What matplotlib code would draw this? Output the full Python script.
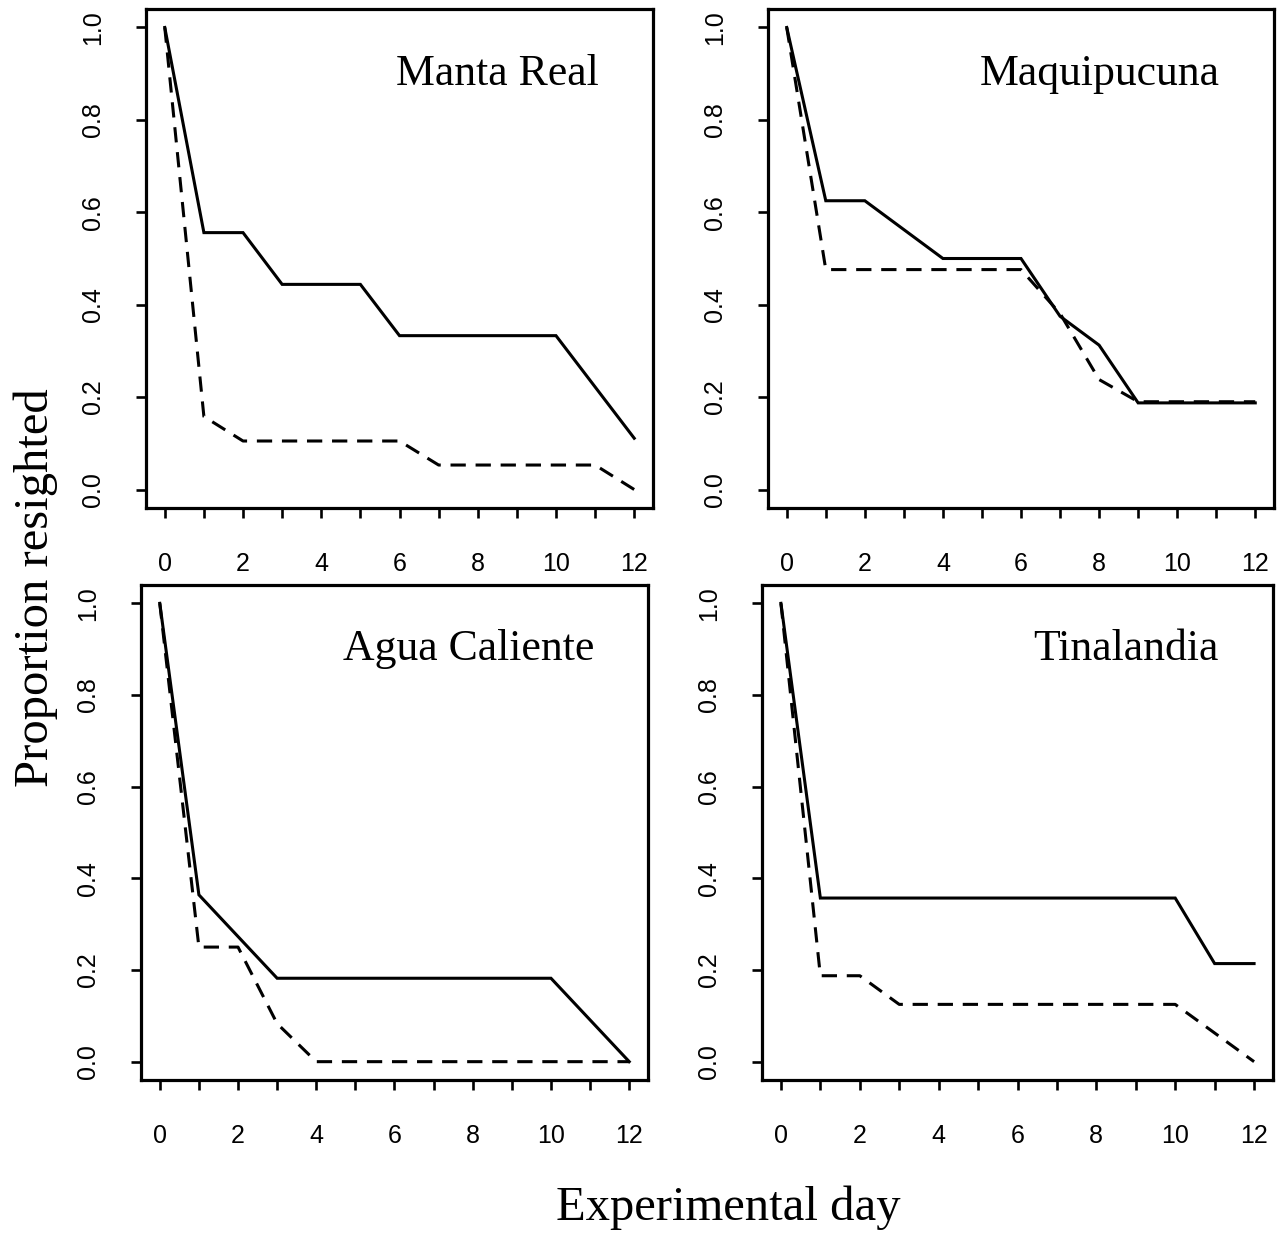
import matplotlib
matplotlib.use("Agg")
import matplotlib.pyplot as plt
import numpy as np

days = list(range(13))
sites = ["Manta Real", "Maquipucuna", "Agua Caliente", "Tinalandia"]

manta_solid = [1.0, 0.556, 0.556, 0.444, 0.444, 0.444, 0.333, 0.333, 0.333, 0.333, 0.333, 0.222, 0.111]
manta_dashed = [1.0, 0.158, 0.105, 0.105, 0.105, 0.105, 0.105, 0.053, 0.053, 0.053, 0.053, 0.053, 0.0]
maqui_solid = [1.0, 0.625, 0.625, 0.5625, 0.5, 0.5, 0.5, 0.375, 0.3125, 0.1875, 0.1875, 0.1875, 0.1875]
maqui_dashed = [1.0, 0.476, 0.476, 0.476, 0.476, 0.476, 0.476, 0.381, 0.238, 0.190, 0.190, 0.190, 0.190]
agua_solid = [1.0, 0.364, 0.273, 0.182, 0.182, 0.182, 0.182, 0.182, 0.182, 0.182, 0.182, 0.091, 0.0]
agua_dashed = [1.0, 0.25, 0.25, 0.083, 0.0, 0.0, 0.0, 0.0, 0.0, 0.0, 0.0, 0.0, 0.0]
tina_solid = [1.0, 0.357, 0.357, 0.357, 0.357, 0.357, 0.357, 0.357, 0.357, 0.357, 0.357, 0.214, 0.214]
tina_dashed = [1.0, 0.1875, 0.1875, 0.125, 0.125, 0.125, 0.125, 0.125, 0.125, 0.125, 0.125, 0.0625, 0.0]

solid_series = [manta_solid, maqui_solid, agua_solid, tina_solid]
dashed_series = [manta_dashed, maqui_dashed, agua_dashed, tina_dashed]

xtick_major = [0, 2, 4, 6, 8, 10, 12]
xtick_minor = [1, 3, 5, 7, 9, 11]
ytick_vals = [0.0, 0.2, 0.4, 0.6, 0.8, 1.0]

W, H = 1288, 1236
fig = plt.figure(figsize=(W / 100, H / 100), dpi=100)

# panel boxes in pixels: left, right, top, bottom
boxes = [(146, 653, 9, 508), (768, 1274, 9, 508),
         (141, 648, 585, 1080), (762, 1273, 585, 1080)]

serif = ["Liberation Serif", "DejaVu Serif"]
sans = ["Liberation Sans", "DejaVu Sans"]

for i, (l, r, t, b) in enumerate(boxes):
    ax = fig.add_axes([l / W, 1 - b / H, (r - l) / W, (b - t) / H])
    ax.plot(days, solid_series[i], color="black", lw=2.2, solid_joinstyle="miter")
    ax.plot(days, dashed_series[i], color="black", lw=2.2, dashes=(5, 3.2))
    ax.set_xlim(-0.48, 12.48)
    ax.set_ylim(-0.04, 1.04)
    ax.set_xticks(xtick_major)
    ax.set_xticklabels([str(v) for v in xtick_major], fontfamily=sans, fontsize=18)
    ax.set_xticks(xtick_minor, minor=True)
    ax.set_yticks(ytick_vals)
    ax.set_yticklabels([f"{v:.1f}" for v in ytick_vals], fontfamily=sans, fontsize=18,
                       rotation=90, va="center")
    ax.tick_params(axis="both", which="both", direction="out", length=7.5, width=1.9,
                   color="black")
    ax.tick_params(axis="x", which="both", pad=24)
    ax.tick_params(axis="y", which="both", pad=22)
    for s in ax.spines.values():
        s.set_linewidth(2.3)
    ax.text(11.1, 0.90, sites[i], ha="right", va="center", fontfamily=serif,
            fontsize=31.5)

fig.text(36 / W, 1 - 588 / H, "Proportion resighted", rotation=90, ha="center",
         va="center", fontfamily=serif, fontsize=35)
fig.text(728 / W, 1 - 1208 / H, "Experimental day", ha="center", va="center",
         fontfamily=serif, fontsize=35)

fig.savefig("out.png", dpi=100, facecolor="white")
